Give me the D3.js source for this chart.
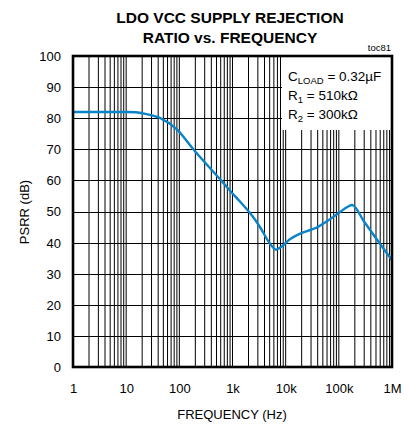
<!DOCTYPE html>
<html><head><meta charset="utf-8">
<script src="https://cdn.jsdelivr.net/npm/d3@7"></script>
<style>body{margin:0;background:#fff}svg{display:block}text{font-family:"Liberation Sans",Arial,sans-serif;fill:#000}</style>
</head><body><svg id="c" width="409" height="427"></svg>
<script>
const freqHz = [1,5,10,15,23,44,90,183,610,1000,1380,2000,2500,3260,5000,6600,8200,11800,18300,32000,40000,58000,101000,150000,177000,300000,500000,1000000];
const psrrDb = [82,82,82,81.9,81.4,80,76.4,70,60,55.8,53.2,50.1,48,45.1,39.8,37.7,38.6,41,42.8,44.3,45,46.7,49.6,51.6,52.1,46.7,41.4,34.3];
const xTickValues = [1,10,100,1e3,1e4,1e5,1e6];
const xTickLabels = ["1","10","100","1k","10k","100k","1M"];
const yTickValues = [0,10,20,30,40,50,60,70,80,90,100];
const titleLines = ["LDO VCC SUPPLY REJECTION","RATIO vs. FREQUENCY"];
const legendLines = [["C","LOAD"," = 0.32µF"],["R","1"," = 510kΩ"],["R","2"," = 300kΩ"]];

const svg = d3.select("#c");
const L=73, R=392, T=56, B=367;
const x = d3.scaleLog().domain([1,1e6]).range([L,R]);
const y = d3.scaleLinear().domain([0,100]).range([B,T]);

// minor vertical grid
const minor=[];
for(let d=1; d<1e6; d*=10) for(let k=1;k<10;k++) minor.push(d*k);
svg.append("g").selectAll("line").data(minor.filter(v=>v>1&&v<1e6)).join("line")
  .attr("x1",d=>x(d)).attr("x2",d=>x(d)).attr("y1",T).attr("y2",B)
  .attr("stroke","#000").attr("stroke-width",1);
svg.append("g").selectAll("line").data(yTickValues.filter(v=>v>0&&v<100)).join("line")
  .attr("x1",L).attr("x2",R).attr("y1",d=>Math.round(y(d))+0.5).attr("y2",d=>Math.round(y(d))+0.5)
  .attr("stroke","#000").attr("stroke-width",1);

// legend box
svg.append("rect").attr("x",282).attr("y",T).attr("width",R-282).attr("height",130-T).attr("fill","#fff");
const lg = svg.append("g");
legendLines.forEach((ln,i)=>{
  const t = lg.append("text").attr("x",288).attr("y",[81,100,119][i]).attr("font-size",13.5);
  t.append("tspan").text(ln[0]);
  t.append("tspan").attr("font-size",9.5).attr("dy",3).text(ln[1]);
  t.append("tspan").attr("dy",-3).text(ln[2]);
});

// curve
const line = d3.line().x((d,i)=>x(freqHz[i])).y(d=>y(d)).curve(d3.curveMonotoneX);
svg.append("path").attr("d",line(psrrDb)).attr("fill","none").attr("stroke","#0a84c8").attr("stroke-width",2.4).attr("stroke-linejoin","round");

// frame
svg.append("rect").attr("x",L).attr("y",T).attr("width",R-L).attr("height",B-T).attr("fill","none").attr("stroke","#000").attr("stroke-width",2.6);

// axes labels
const xa = d3.axisBottom(x).tickValues(xTickValues).tickFormat((d,i)=>xTickLabels[i]).tickSize(0).tickPadding(0);
const gx = svg.append("g").attr("transform",`translate(0,${B})`).call(xa);
gx.select(".domain").remove();
gx.selectAll("text").attr("y",26).attr("dy",0).attr("font-size",13).attr("font-family","Liberation Sans, Arial, sans-serif");
const ya = d3.axisLeft(y).tickValues(yTickValues).tickSize(0).tickPadding(0);
const gy = svg.append("g").attr("transform",`translate(61,0)`).call(ya);
gy.select(".domain").remove();
gy.selectAll("text").attr("x",0).attr("dy","0.34em").attr("font-size",13).attr("font-family","Liberation Sans, Arial, sans-serif");

svg.append("text").attr("x",232).attr("y",419).attr("text-anchor","middle").attr("font-size",13).text("FREQUENCY (Hz)");
svg.append("text").attr("transform","translate(29,212) rotate(-90)").attr("text-anchor","middle").attr("font-size",13).text("PSRR (dB)");

titleLines.forEach((s,i)=>svg.append("text").attr("x",230).attr("y",[23,42.5][i]).attr("text-anchor","middle").attr("font-size",15.5).attr("font-weight","bold").text(s));
svg.append("text").attr("x",391).attr("y",51).attr("text-anchor","end").attr("font-size",9.5).text("toc81");
</script></body></html>
